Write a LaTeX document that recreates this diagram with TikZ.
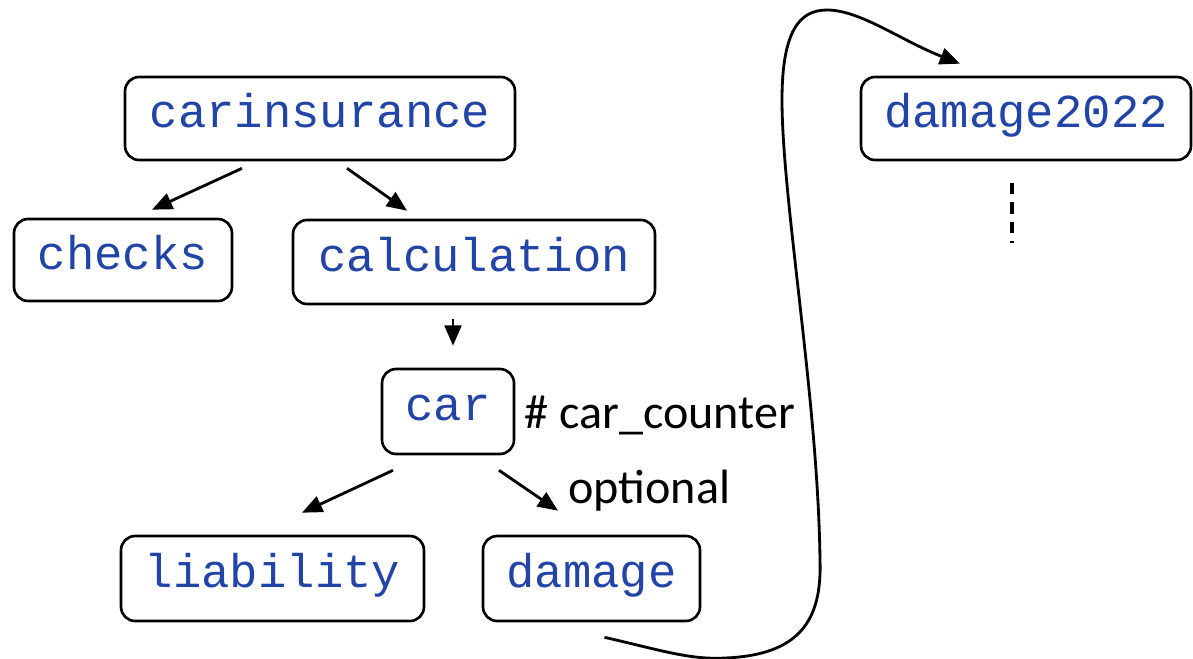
\documentclass[tikz,border=0pt]{standalone}
\usepackage{fontspec}
\newfontfamily\codefont{Liberation Mono}
\newfontfamily\notefont{Carlito}
\usetikzlibrary{arrows.meta,calc}
\definecolor{codeblue}{RGB}{33,68,166}

\begin{document}
\begin{tikzpicture}[x=0.02cm, y=-0.02cm, >={Triangle[length=11.5pt,width=9.5pt]},
  box/.style={draw, line width=1.5pt, rounded corners=8pt, inner sep=0pt, text=codeblue,
    font=\codefont\fontsize{26.9}{32}\selectfont, text height=1.12em, text depth=0.04em},
  link/.style={->, line width=1.6pt},
  note/.style={anchor=base west, inner sep=0pt, font=\notefont\fontsize{27.4}{32}\selectfont}]
  \useasboundingbox (0,0) rectangle (1193,659);

  % Tree of the input file
  \node[box, minimum width=7.8cm, minimum height=1.66cm] (carinsurance) at (320,118.5) {carinsurance};
  \node[box, minimum width=4.36cm, minimum height=1.64cm] (checks) at (123,260) {checks};
  \node[box, minimum width=7.24cm, minimum height=1.68cm] (calculation) at (474,262) {calculation};
  \node[box, minimum width=2.64cm, minimum height=1.7cm] (car) at (448,411.5) {car};
  \node[box, minimum width=6.06cm, minimum height=1.7cm] (liability) at (272.5,578.5) {liability};
  \node[box, minimum width=4.34cm, minimum height=1.7cm] (damage) at (591.5,578.5) {damage};
  \node[note] (counter) at (524,428) {\# car\_counter};
  \node[note] (optional) at (568,503) {optional};

  \draw[link] ($(carinsurance.south)+(-78,7)$) -- ($(checks.north)+(29,-8)$);
  \draw[link] ($(carinsurance.south)+(27,7)$) -- ($(calculation.north)+(-67,-8)$);
  \draw[link] ($(calculation.south)+(-21,14)$) -- ($(car.north)+(5,-22)$);
  \draw[link] ($(car.south)+(-55,15)$) -- ($(liability.north)+(29.5,-22)$);
  \draw[link] ($(car.south)+(51,15)$) -- ($(damage.north)+(-33.5,-24)$);

  % Damage of one year
  \node[box, minimum width=6.6cm, minimum height=1.66cm] (damage2022) at (1026,118.5) {damage2022};
  \draw[line width=2pt, dash pattern=on 6.3pt off 4.6pt] ($(damage2022.south)+(-14,22)$) -- ++(0,60);

  \coordinate (out) at ($(damage.south)+(13,15)$);
  \coordinate (in) at ($(damage2022.north)+(-66,-12)$);
  \draw[link] (out) .. controls (660,650) and (690,660) .. (725,658)
    .. controls (800,655) and (822,620) .. (820,560)
    .. controls (818,400) and (782,200) .. (782,100)
    .. controls (782,30) and (800,10) .. (827,10)
    .. controls (860,10) and (900,40) .. (in);
\end{tikzpicture}
\end{document}
